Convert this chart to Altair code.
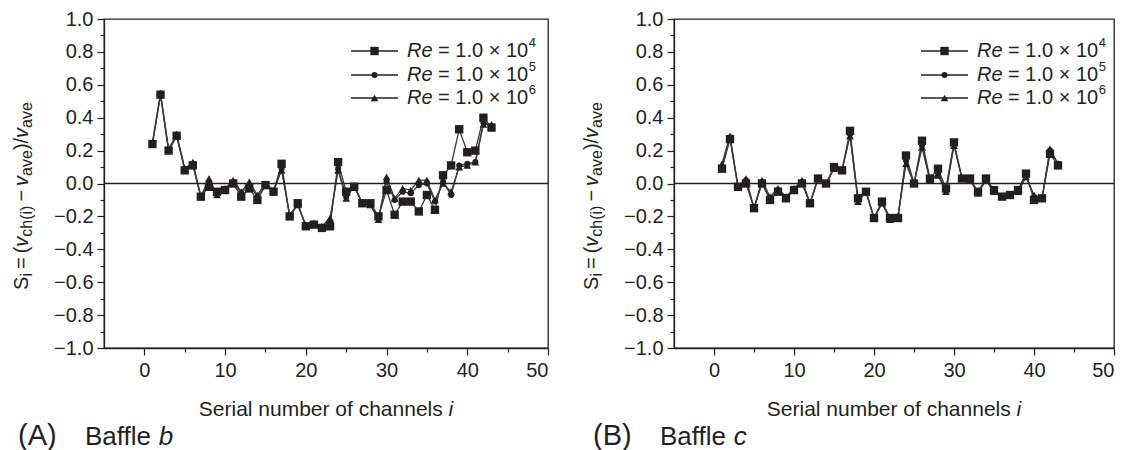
import altair as alt
import pandas as pd

# ---------------- data ----------------
channels = list(range(1, 44))
series_names = ["Re = 1.0 x 10^4", "Re = 1.0 x 10^5", "Re = 1.0 x 10^6"]
exponents = ["4", "5", "6"]

# Panel (A) Baffle b
a_re4 = [0.24, 0.54, 0.20, 0.29, 0.08, 0.11, -0.08, -0.02, -0.05, -0.04,
         0.00, -0.08, -0.03, -0.10, -0.01, -0.05, 0.12, -0.20, -0.12, -0.26,
         -0.25, -0.27, -0.26, 0.13, -0.05, -0.02, -0.12, -0.12, -0.20, -0.04,
         -0.19, -0.11, -0.11, -0.17, -0.07, -0.16, 0.05, 0.11, 0.33, 0.19,
         0.20, 0.40, 0.34]
a_re5 = [0.24, 0.54, 0.20, 0.29, 0.09, 0.12, -0.08, 0.01, -0.06, -0.04,
         0.01, -0.06, -0.01, -0.08, -0.01, -0.05, 0.09, -0.20, -0.13, -0.26,
         -0.25, -0.27, -0.23, 0.09, -0.08, -0.02, -0.12, -0.13, -0.21, 0.01,
         -0.10, -0.05, -0.06, -0.01, 0.00, -0.11, 0.01, -0.07, 0.11, 0.12,
         0.13, 0.37, 0.35]
a_re6 = [0.25, 0.55, 0.21, 0.30, 0.09, 0.13, -0.08, 0.03, -0.07, -0.03,
         0.02, -0.05, 0.01, -0.07, 0.00, -0.04, 0.08, -0.19, -0.13, -0.25,
         -0.24, -0.26, -0.21, 0.08, -0.09, -0.01, -0.12, -0.13, -0.22, 0.04,
         -0.09, -0.03, -0.04, 0.02, 0.02, -0.10, 0.00, -0.05, 0.10, 0.11,
         0.13, 0.36, 0.36]

# Panel (B) Baffle c
b_re4 = [0.09, 0.27, -0.02, 0.00, -0.15, 0.00, -0.10, -0.05, -0.09, -0.04,
         0.00, -0.12, 0.03, 0.00, 0.10, 0.08, 0.32, -0.09, -0.05, -0.21,
         -0.11, -0.21, -0.21, 0.17, 0.00, 0.26, 0.03, 0.09, -0.03, 0.25,
         0.03, 0.03, -0.05, 0.03, -0.04, -0.08, -0.07, -0.04, 0.06, -0.10,
         -0.09, 0.18, 0.11]
b_re5 = [0.10, 0.28, -0.02, 0.02, -0.15, 0.01, -0.09, -0.04, -0.08, -0.04,
         0.01, -0.12, 0.03, 0.00, 0.09, 0.08, 0.30, -0.10, -0.05, -0.21,
         -0.12, -0.21, -0.20, 0.14, 0.00, 0.23, 0.02, 0.06, -0.04, 0.24,
         0.03, 0.02, -0.05, 0.02, -0.05, -0.08, -0.07, -0.05, 0.05, -0.08,
         -0.09, 0.20, 0.12]
b_re6 = [0.12, 0.29, -0.02, 0.03, -0.15, 0.02, -0.08, -0.03, -0.08, -0.03,
         0.02, -0.12, 0.03, 0.00, 0.09, 0.08, 0.29, -0.11, -0.05, -0.21,
         -0.12, -0.22, -0.20, 0.12, 0.00, 0.22, 0.02, 0.05, -0.05, 0.23,
         0.03, 0.02, -0.06, 0.02, -0.05, -0.08, -0.07, -0.05, 0.04, -0.07,
         -0.09, 0.21, 0.12]

x_ticks = [0, 5, 10, 15, 20, 25, 30, 35, 40, 45, 50]
y_ticks = [round(-1.0 + 0.1 * k, 1) for k in range(21)]

# ---------------- style ----------------
FONT = "Liberation Sans"
INK = "#231f20"
LINE = "#3a3a3a"
H = 329
SHAPES = ["square", "circle", "triangle-up"]
SIZES = [70, 36, 60]

# Arial / Liberation Sans advance widths (per 1000 em) for layout of text pieces
AW = {" ": 278, "(": 333, ")": 333, "/": 278, "=": 584, "\u2212": 584, "\u00d7": 584,
      ".": 278, "A": 667, "B": 667, "R": 722, "S": 667, "a": 556, "b": 556,
      "c": 500, "e": 556, "f": 278, "h": 556, "i": 222, "l": 222, "v": 500,
      "n": 556, "u": 556, "m": 833, "r": 333, "o": 556, "s": 500}


def tw(s, size):
    return sum(AW.get(ch, 556) for ch in s) / 1000.0 * size


ONE = pd.DataFrame({"a": [0]})


def txt(x, y, s, size, italic=False, angle=0, align="left", baseline="middle"):
    return alt.Chart(ONE).mark_text(
        text=s, font=FONT, fontSize=size, fontStyle="italic" if italic else "normal",
        color=INK, align=align, baseline=baseline, angle=angle
    ).encode(x=alt.value(x), y=alt.value(y))


def panel(vals, W, letter, baffle):
    rows = []
    for name, vs in zip(series_names, vals):
        for i, v in zip(channels, vs):
            rows.append({"i": i, "v": v, "series": name})
    df = pd.DataFrame(rows)

    xaxis = alt.Axis(
        values=x_ticks, format="d",
        labelExpr="datum.value % 10 === 0 ? datum.label : ''",
        tickSize={"condition": {"test": "datum.value % 10 === 0", "value": 7}, "value": 4},
        grid=False, title=None, domainColor=INK, tickColor=INK, domainWidth=1.3,
        tickWidth=1.2, labelFont=FONT, labelFontSize=20, labelColor=INK, labelPadding=5,
    )
    yaxis = alt.Axis(
        values=y_ticks, format=".1f",
        labelExpr="abs(round(datum.value * 10)) % 2 === 0 ? datum.label : ''",
        tickSize={"condition": {"test": "abs(round(datum.value * 10)) % 2 === 0", "value": 7},
                  "value": 4},
        grid=False, title=None, domainColor=INK, tickColor=INK, domainWidth=1.3,
        tickWidth=1.2, labelFont=FONT, labelFontSize=20, labelColor=INK, labelPadding=4,
    )
    X = alt.X("i:Q", scale=alt.Scale(domain=[-5, 50], nice=False, zero=False), axis=xaxis)
    Y = alt.Y("v:Q", scale=alt.Scale(domain=[-1, 1], nice=False, zero=False), axis=yaxis)

    layers = []
    for name in series_names:
        layers.append(alt.Chart(df[df.series == name]).mark_line(
            color=LINE, strokeWidth=1.3).encode(x=X, y=Y))
    zero = alt.Chart(pd.DataFrame({"v": [0.0]})).mark_rule(
        color=INK, strokeWidth=1.3).encode(y=Y, x=alt.value(0), x2=alt.value(W))
    layers.append(zero)
    for k in [2, 1, 0]:
        layers.append(alt.Chart(df[df.series == series_names[k]]).mark_point(
            shape=SHAPES[k], size=SIZES[k], filled=True, opacity=1, color=INK
        ).encode(x=X, y=Y))

    # legend inside plot (top right)
    rows_y = [32, 56, 79]
    lx0, lx1 = 247, 294
    tx = 303
    for k in range(3):
        ry = rows_y[k]
        layers.append(alt.Chart(ONE).mark_rule(color=INK, strokeWidth=1.3).encode(
            x=alt.value(lx0), x2=alt.value(lx1), y=alt.value(ry)))
        layers.append(alt.Chart(ONE).mark_point(
            shape=SHAPES[k], size=SIZES[k], filled=True, opacity=1, color=INK
        ).encode(x=alt.value((lx0 + lx1) / 2), y=alt.value(ry)))
        layers.append(txt(tx, ry, "Re", 20, italic=True))
        x2 = tx + tw("Re ", 20)
        main = "= 1.0 \u00d7 10"
        layers.append(txt(x2, ry, main, 20))
        layers.append(txt(x2 + tw(main, 20) + 0.5, ry - 8, exponents[k], 13))

    # y-axis title, rotated, built from pieces with subscripts
    MS, SS = 20, 16
    xb = -76
    pieces = [("S", MS, False, 0), ("i", SS, False, 1), (None, 4, False, 0),
              ("=", MS, False, 0), (None, 4, False, 0), ("(", MS, False, 0),
              ("v", MS, True, 0), ("ch(i)", SS, False, 1), (None, 4, False, 0),
              ("\u2212", MS, False, 0), (None, 4, False, 0), ("v", MS, True, 0),
              ("ave", SS, False, 1), (")/", MS, False, 0), ("v", MS, True, 0),
              ("ave", SS, False, 1)]
    total = sum(p[1] if p[0] is None else tw(p[0], p[1]) for p in pieces)
    ycen = 177
    ypos = ycen + total / 2
    for s, size, it, sub in pieces:
        if s is None:
            ypos -= size
            continue
        layers.append(txt(xb + (4 if sub else 0), ypos, s, size, italic=it,
                          angle=270, align="left", baseline="alphabetic"))
        ypos -= tw(s, size)

    # x-axis title
    xt = "Serial number of channels"
    xs = 21
    xw = tw(xt + " i", xs)
    x0 = W / 2 - xw / 2
    layers.append(txt(x0, 391, xt, xs))
    layers.append(txt(x0 + tw(xt + " ", xs), 391, "i", xs, italic=True))

    # panel caption
    cx = -86 if letter == "A" else -81
    layers.append(txt(cx, 417, "(" + letter + ")", 29))
    bx = cx + 67
    layers.append(txt(bx, 418, "Baffle", 26))
    layers.append(txt(bx + tw("Baffle ", 26), 418, baffle, 26, italic=True))

    return alt.layer(*layers).properties(width=W, height=H)


pa = panel([a_re4, a_re5, a_re6], 444, "A", "b")
pb = panel([b_re4, b_re5, b_re6], 440, "B", "c")

chart = alt.hconcat(pa, pb, spacing=126, bounds="flush").properties(
    padding={"left": 3, "top": 0, "right": 5, "bottom": 0}
).configure_view(stroke=INK, strokeWidth=1.3)

chart.save("out.html", embed_options={"renderer": "svg", "actions": False})
